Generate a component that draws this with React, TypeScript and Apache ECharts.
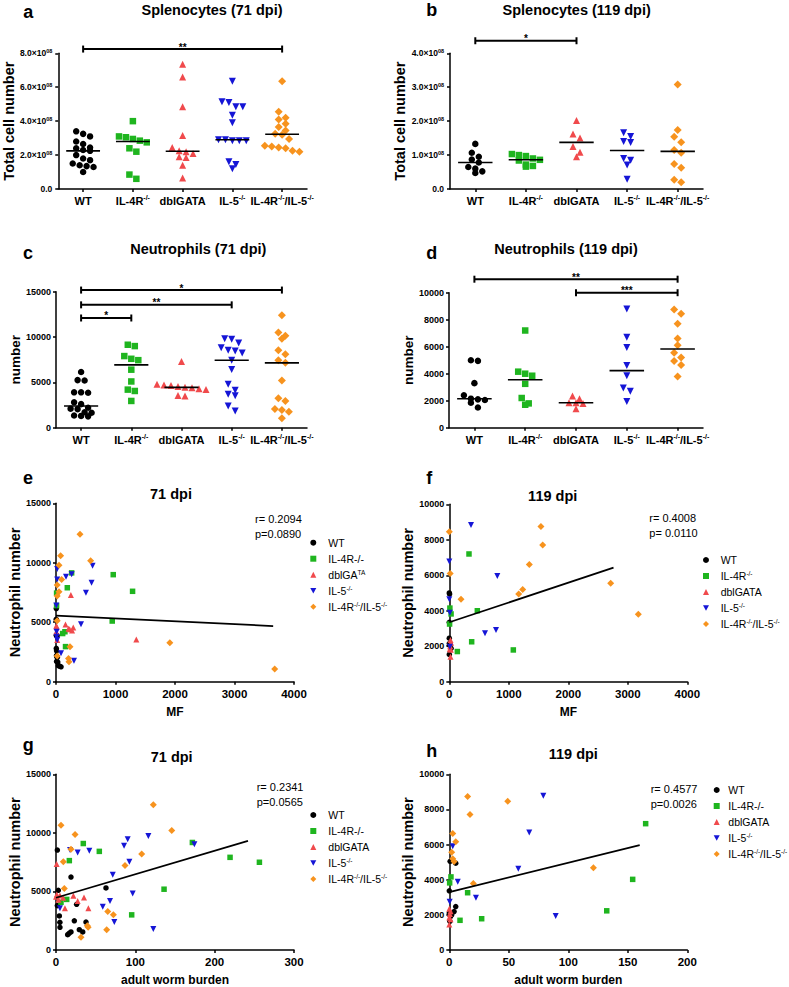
import React, { useEffect, useRef } from 'react';
import * as echarts from 'echarts';

const FONT = "'Liberation Sans', Arial, sans-serif";

// ---------- categories ----------
const groupLabels = ['WT', 'IL-4R{s|-/-}', 'dblGATA', 'IL-5{s|-/-}', 'IL-4R{s|-/-}/IL-5{s|-/-}'];

// ---------- Splenocytes 71 dpi (x10^8) ----------
const splen71WT = [3.4, 3.25, 3.1, 2.8, 2.65, 2.45, 2.4, 2.3, 2.25, 2.0, 1.8, 1.7, 1.5, 1.4, 1.35, 1.3, 1.0];
const splen71IL4R = [4.0, 3.1, 3.05, 2.95, 2.85, 2.75, 2.4, 2.2, 0.85, 0.6];
const splen71dbl = [7.35, 6.6, 4.85, 3.15, 2.45, 2.25, 2.2, 2.1, 1.9, 1.85, 1.4, 0.65];
const splen71IL5 = [6.35, 5.15, 5.1, 4.85, 4.85, 4.35, 3.9, 2.9, 2.9, 2.85, 2.85, 2.85, 1.6, 1.45, 1.2];
const splen71DKO = [6.35, 4.55, 4.2, 4.1, 3.85, 3.65, 3.45, 3.25, 3.2, 2.95, 2.55, 2.5, 2.45, 2.4, 2.25, 2.2];

// ---------- Splenocytes 119 dpi (x10^8) ----------
const splen119WT = [1.33, 1.07, 0.95, 0.87, 0.78, 0.65, 0.6, 0.52, 0.47];
const splen119IL4R = [1.03, 1.0, 0.97, 0.9, 0.86, 0.84, 0.72, 0.68, 0.66];
const splen119dbl = [2.02, 1.62, 1.5, 1.25, 1.08, 0.95];
const splen119IL5 = [1.66, 1.55, 1.4, 1.37, 0.9, 0.85, 0.71, 0.29];
const splen119DKO = [3.08, 1.74, 1.54, 1.38, 1.15, 1.07, 0.74, 0.63, 0.27, 0.2];

// ---------- Neutrophils 71 dpi ----------
const neut71WT = [6150, 5250, 5200, 3900, 3900, 3850, 2800, 2600, 2200, 2100, 2050, 1700, 1650, 1350, 1300, 1250];
const neut71IL4R = [9150, 9000, 7900, 7600, 7450, 6400, 5100, 4200, 4050, 2950];
const neut71dbl = [7300, 4800, 4700, 4650, 4550, 4450, 4400, 4300, 4200, 3550, 3500];
const neut71IL5 = [9820, 9750, 9340, 8830, 8530, 8460, 8240, 7440, 6410, 4800, 4140, 3700, 3520, 2380, 1830];
const neut71DKO = [12400, 10500, 10150, 9800, 8550, 8100, 7450, 7150, 5200, 3250, 2950, 2050, 1950, 1750, 1050];

// ---------- Neutrophils 119 dpi ----------
const neut119WT = [5000, 4950, 3300, 2400, 2150, 2100, 2050, 1850, 1500];
const neut119IL4R = [7200, 4150, 4000, 3850, 3250, 2200, 1800, 1700];
const neut119dbl = [2350, 2150, 1850, 1850, 1800, 1400];
const neut119IL5 = [8800, 6700, 5950, 4600, 3850, 2950, 2700, 1950];
const neut119DKO = [8750, 8450, 7700, 6600, 6100, 5550, 5200, 4950, 4650, 3800];

// ---------- significance bars ----------
const sigSplen71 = [{ from: 0, to: 4, y: 8.25, label: '**' }];
const sigSplen119 = [{ from: 0, to: 2, y: 4.37, label: '*' }];
const sigNeut71 = [
  { from: 0, to: 4, y: 15180, label: '*' },
  { from: 0, to: 3, y: 13550, label: '**' },
  { from: 0, to: 1, y: 12100, label: '*' },
];
const sigNeut119 = [
  { from: 0, to: 4, y: 11000, label: '**' },
  { from: 2, to: 4, y: 10000, label: '***' },
];

// ---------- e: MF vs neutrophils, 71 dpi ----------
const mf71WT = [[5, 6150], [3, 5250], [8, 5200], [5, 3900], [12, 3900], [18, 3850], [5, 2800], [10, 2600], [8, 2200], [15, 2100], [22, 2050], [10, 1700], [30, 1650], [40, 1350], [60, 1300], [85, 1250]];
const mf71IL4R = [[263, 9150], [962, 9000], [190, 7900], [1287, 7600], [10, 7450], [10, 6400], [945, 5100], [150, 4200], [112, 4050], [160, 2950]];
const mf71dbl = [[250, 7300], [160, 4800], [5, 4700], [10, 4650], [290, 4550], [210, 4450], [230, 4400], [270, 4300], [5, 4200], [1350, 3550], [20, 3500]];
const mf71IL5 = [[615, 9750], [20, 9470], [263, 9030], [168, 8830], [20, 8600], [598, 8320], [503, 7480], [5, 6410], [420, 4820], [10, 4200], [10, 3780], [20, 3500], [84, 2390], [302, 1770]];
const mf71DKO = [[403, 12400], [78, 10590], [50, 9800], [582, 10170], [95, 8600], [20, 8130], [50, 7560], [20, 7200], [20, 5130], [1913, 3280], [235, 2940], [20, 2160], [218, 1680], [210, 1950], [3675, 1070]];
const mf71Fit = [[0, 5550], [3650, 4680]];

// ---------- f: MF vs neutrophils, 119 dpi ----------
const mf119WT = [[0, 5000], [5, 4950], [0, 3350], [0, 2450], [0, 2150], [10, 2100], [30, 1880], [5, 2050], [0, 1540]];
const mf119IL4R = [[331, 7200], [10, 4150], [471, 4000], [30, 3820], [5, 3250], [376, 2250], [135, 1700], [1076, 1790]];
const mf119dbl = [[20, 2350], [30, 2200], [15, 2000], [10, 1850], [25, 1800], [20, 1400]];
const mf119IL5 = [[365, 8830], [0, 6770], [807, 5960], [0, 4650], [10, 3880], [600, 2730], [785, 2910], [10, 1970]];
const mf119DKO = [[1540, 8750], [0, 8450], [1570, 7700], [1345, 6600], [15, 6100], [2712, 5550], [1233, 5200], [1166, 4950], [197, 4650], [3177, 3800]];
const mf119Fit = [[0, 3350], [2760, 6430]];

// ---------- g: worm burden vs neutrophils, 71 dpi ----------
const wb71WT = [[1.7, 8530], [18.9, 6230], [2.9, 5100], [63, 5300], [26, 3900], [1.7, 3790], [4.2, 2910], [4.9, 2360], [23.1, 2490], [37.8, 2380], [5, 1940], [29.4, 1730], [18.9, 1540], [33.7, 1540], [14.7, 1310], [16.5, 1420]];
const wb71IL4R = [[34.4, 9090], [54.6, 8420], [171.9, 9180], [16.8, 7630], [219.4, 7910], [256.4, 7490], [136.2, 5190], [6.3, 4070], [13.5, 4320], [95.4, 3000]];
const wb71dbl = [[0.8, 7350], [1, 4740], [11.3, 3560], [21.9, 4630], [27.3, 4180], [35.3, 4490], [40.8, 3560], [9, 4460], [3, 4300], [0, 4550], [5, 4650]];
const wb71IL5 = [[116.4, 9730], [90.4, 9450], [174.4, 9030], [85.8, 8890], [17.7, 8530], [27.3, 8330], [42, 8470], [92.5, 7540], [71.5, 6420], [68.1, 4180], [96.7, 4820], [58.9, 3700], [5, 3560], [73.5, 2380], [122.7, 1790]];
const wb71DKO = [[122.7, 12400], [6.3, 10660], [24, 9870], [145.9, 10210], [18.9, 8610], [9.2, 7540], [108, 8190], [87, 7210], [10.5, 5240], [65.2, 3280], [72.3, 3000], [39.5, 2070], [40.5, 1950], [63.9, 1730], [31.5, 1090]];
const wb71Fit = [[0, 4460], [242, 9310]];

// ---------- h: worm burden vs neutrophils, 119 dpi ----------
const wb119WT = [[0.7, 5050], [5.4, 4940], [0, 3370], [5.4, 2470], [4, 2190], [0, 2100], [1, 1900], [0.5, 1630], [2, 2000]];
const wb119IL4R = [[165, 7190], [154.1, 4020], [1.4, 4160], [0.3, 3820], [15.4, 3260], [132.3, 2230], [27.2, 1780], [9, 1690]];
const wb119dbl = [[0, 2350], [1, 2200], [0.5, 2050], [0, 1850], [1, 1750], [0, 1450]];
const wb119IL5 = [[79, 8780], [67.2, 6690], [2.9, 5900], [58, 4620], [7.1, 3880], [22.4, 2980], [0.3, 2750], [89.4, 1940]];
const wb119DKO = [[15.4, 8740], [49.1, 8460], [17.4, 7710], [2.9, 6630], [5.4, 6160], [2, 5560], [2.9, 5190], [4, 5030], [121.1, 4680], [20.2, 3780]];
const wb119Fit = [[0, 3300], [160, 5970]];

// ---------- legend texts & stats ----------
const legendE = ['WT', 'IL-4R-/-', 'dblGA{s|TA}', 'IL-5{s|-/-}', 'IL-4R{s|-/-}/IL-5{s|-/-}'];
const legendF = ['WT', 'IL-4R{s|-/-}', 'dblGATA', 'IL-5{s|-/-}', 'IL-4R{s|-/-}/IL-5{s|-/-}'];
const legendG = ['WT', 'IL-4R-/-', 'dblGATA', 'IL-5{s|-/-}', 'IL-4R{s|-/-}/IL-5{s|-/-}'];
const legendH = ['WT', 'IL-4R-/-', 'dblGATA', 'IL-5{s|-/-}', 'IL-4R{s|-/-}/IL-5{s|-/-}'];
const statsE = ['r= 0.2094', 'p=0.0890'];
const statsF = ['r= 0.4008', 'p= 0.0110'];
const statsG = ['r= 0.2341', 'p=0.0565'];
const statsH = ['r= 0.4577', 'p=0.0026'];

// ---------- styles ----------
const COLORS = ['#000000', '#1fb51f', '#f04a4c', '#1515d6', '#f7931e'];
const SYMBOLS = ['circle', 'rect', 'triangle', 'path://M0,0L10,0L5,9Z', 'diamond'];
const CAT_SIZES = [6.5, 6.5, 7, 7, 8];
const SCAT_SIZES = [5.5, 5.5, 6, 6, 7];

const median = (arr: number[]) => {
  const s = arr.slice().sort((a, b) => a - b);
  const n = s.length;
  return n % 2 ? s[(n - 1) / 2] : (s[n / 2 - 1] + s[n / 2]) / 2;
};

// GraphPad-like row arrangement of points in a column
function swarm(values: number[], center: number, thr: number, step: number) {
  const sorted = values.slice().sort((a, b) => b - a);
  const rows: number[][] = [];
  for (const v of sorted) {
    const row = rows[rows.length - 1];
    if (row && row[0] - v < thr) row.push(v);
    else rows.push([v]);
  }
  const out: number[][] = [];
  rows.forEach((row) => row.forEach((v, i) => out.push([center + (i - (row.length - 1) / 2) * step, v])));
  return out;
}

const plain = (v: number) => String(v);
const axisLineStyle = { show: true, onZero: false, lineStyle: { color: '#000', width: 1.5 } };
const axisTickStyle = { show: true, length: 3, lineStyle: { color: '#000', width: 1.5 } };
const supRich = (size: number, lh: number, bold: boolean) => ({
  s: { fontSize: size, fontFamily: FONT, fontWeight: bold ? 'bold' : 'normal', color: '#000', verticalAlign: 'top', lineHeight: lh },
});

function buildOption() {
  const catPanels = [
    { groups: [splen71WT, splen71IL4R, splen71dbl, splen71IL5, splen71DKO], sig: sigSplen71, max: 8, interval: 2, sci: true, name: 'Total cell number', nameSize: 14.5, nameGap: 36, grid: { left: 56, top: 53.3, width: 251, height: 135.7 } },
    { groups: [splen119WT, splen119IL4R, splen119dbl, splen119IL5, splen119DKO], sig: sigSplen119, max: 4, interval: 1, sci: true, name: 'Total cell number', nameSize: 14.5, nameGap: 37, grid: { left: 450, top: 53.3, width: 253, height: 135.7 } },
    { groups: [neut71WT, neut71IL4R, neut71dbl, neut71IL5, neut71DKO], sig: sigNeut71, max: 15000, interval: 5000, sci: false, name: 'number', nameSize: 13.5, nameGap: 33, grid: { left: 56, top: 291.7, width: 251, height: 136 } },
    { groups: [neut119WT, neut119IL4R, neut119dbl, neut119IL5, neut119DKO], sig: sigNeut119, max: 10000, interval: 2000, sci: false, name: 'number', nameSize: 13.5, nameGap: 33, grid: { left: 449, top: 292.7, width: 254, height: 135 } },
  ];
  const scatPanels = [
    { groups: [mf71WT, mf71IL4R, mf71dbl, mf71IL5, mf71DKO], fit: mf71Fit, xmax: 4000, xint: 1000, ymax: 15000, yint: 5000, xname: 'MF', legend: legendE, legendPos: { left: 310.3, top: 536.7, pad: 7 }, grid: { left: 56, top: 503.3, width: 238, height: 178.4 } },
    { groups: [mf119WT, mf119IL4R, mf119dbl, mf119IL5, mf119DKO], fit: mf119Fit, xmax: 4000, xint: 1000, ymax: 10000, yint: 2000, xname: 'MF', legend: legendF, legendPos: { left: 703, top: 554, pad: 6.7 }, grid: { left: 449.3, top: 504.3, width: 238, height: 177.4 } },
    { groups: [wb71WT, wb71IL4R, wb71dbl, wb71IL5, wb71DKO], fit: wb71Fit, xmax: 300, xint: 100, ymax: 15000, yint: 5000, xname: 'adult worm burden', legend: legendG, legendPos: { left: 310.3, top: 809, pad: 7 }, grid: { left: 56, top: 774.3, width: 238, height: 178 } },
    { groups: [wb119WT, wb119IL4R, wb119dbl, wb119IL5, wb119DKO], fit: wb119Fit, xmax: 200, xint: 50, ymax: 10000, yint: 2000, xname: 'adult worm burden', legend: legendH, legendPos: { left: 713.7, top: 784, pad: 3.6 }, grid: { left: 449.3, top: 774.3, width: 238, height: 178 } },
  ];

  const grid: any[] = [];
  const xAxis: any[] = [];
  const yAxis: any[] = [];
  const series: any[] = [];
  const legend: any[] = [];

  catPanels.forEach((p, i) => {
    grid.push(p.grid);
    xAxis.push({
      type: 'category', gridIndex: i, data: groupLabels, position: 'bottom',
      axisLine: axisLineStyle, axisTick: { ...axisTickStyle, alignWithLabel: true },
      axisLabel: { interval: 0, fontSize: 11, fontWeight: 'bold', fontFamily: FONT, color: '#000', margin: 5, lineHeight: 14, rich: supRich(7, 7, true) },
    });
    xAxis.push({ type: 'value', gridIndex: i, min: -0.5, max: 4.5, show: false });
    yAxis.push({
      type: 'value', gridIndex: i, min: 0, max: p.max, interval: p.interval,
      axisLine: axisLineStyle, axisTick: axisTickStyle, splitLine: { show: false },
      axisLabel: p.sci
        ? { fontSize: 8.5, fontWeight: 'bold', fontFamily: FONT, color: '#000', margin: 6, lineHeight: 11, rich: supRich(5.5, 5, true), formatter: (v: number) => (v === 0 ? '0.0' : `${v.toFixed(1)}×10{s|08}`) }
        : { fontSize: 9, fontWeight: 'bold', fontFamily: FONT, color: '#000', margin: 5, formatter: plain },
      name: p.name, nameLocation: 'middle', nameGap: p.nameGap, nameRotate: 90,
      nameTextStyle: { fontSize: p.nameSize, fontWeight: 'bold', fontFamily: FONT, color: '#000' },
    });
    const thr = 6 * (p.max / p.grid.height);
    const step = 7 / (p.grid.width / 5);
    p.groups.forEach((vals, g) => {
      series.push({
        type: 'scatter', name: `c${i}-${g}`, xAxisIndex: 2 * i + 1, yAxisIndex: i,
        data: swarm(vals, g, thr, step), symbol: SYMBOLS[g], symbolSize: CAT_SIZES[g],
        itemStyle: { color: COLORS[g], opacity: 1 }, z: 3, silent: true,
      });
    });
    series.push({
      type: 'custom', xAxisIndex: 2 * i + 1, yAxisIndex: i, z: 5, silent: true, clip: false,
      data: p.groups.map((vals, g) => [g, median(vals)]),
      renderItem: (params: any, api: any) => {
        const pt = api.coord([api.value(0), api.value(1)]);
        const half = api.size([1, 0])[0] * 0.34;
        return { type: 'line', shape: { x1: pt[0] - half, y1: pt[1], x2: pt[0] + half, y2: pt[1] }, style: { stroke: '#000', lineWidth: 1.6 } };
      },
    });
    const sig = p.sig;
    series.push({
      type: 'custom', xAxisIndex: 2 * i + 1, yAxisIndex: i, z: 5, silent: true, clip: false,
      data: sig.map((s) => [s.from, s.y, s.to]),
      renderItem: (params: any, api: any) => {
        const s = sig[params.dataIndex];
        const p1 = api.coord([s.from, s.y]);
        const p2 = api.coord([s.to, s.y]);
        const st = { stroke: '#000', lineWidth: 2 };
        return {
          type: 'group',
          children: [
            { type: 'line', shape: { x1: p1[0], y1: p1[1], x2: p2[0], y2: p2[1] }, style: st },
            { type: 'line', shape: { x1: p1[0], y1: p1[1] - 3.5, x2: p1[0], y2: p1[1] + 3.5 }, style: st },
            { type: 'line', shape: { x1: p2[0], y1: p2[1] - 3.5, x2: p2[0], y2: p2[1] + 3.5 }, style: st },
            { type: 'text', x: (p1[0] + p2[0]) / 2, y: p1[1] - 2, style: { text: s.label, align: 'center', verticalAlign: 'middle', fontSize: 10, fontWeight: 'bold', fontFamily: FONT, fill: '#000' } },
          ],
        };
      },
    });
  });

  scatPanels.forEach((p, j) => {
    const gi = 4 + j;
    grid.push(p.grid);
    xAxis.push({
      type: 'value', gridIndex: gi, min: 0, max: p.xmax, interval: p.xint,
      axisLine: { show: true, lineStyle: { color: '#000', width: 1.5 } }, axisTick: axisTickStyle, splitLine: { show: false },
      axisLabel: { fontSize: 11.5, fontWeight: 'bold', fontFamily: FONT, color: '#000', margin: 6, formatter: plain },
      name: p.xname, nameLocation: 'middle', nameGap: 24,
      nameTextStyle: { fontSize: 12, fontWeight: 'bold', fontFamily: FONT, color: '#000' },
    });
    yAxis.push({
      type: 'value', gridIndex: gi, min: 0, max: p.ymax, interval: p.yint,
      axisLine: { show: true, lineStyle: { color: '#000', width: 1.5 } }, axisTick: axisTickStyle, splitLine: { show: false },
      axisLabel: { fontSize: 9, fontWeight: 'bold', fontFamily: FONT, color: '#000', margin: 5, formatter: plain },
      name: 'Neutrophil number', nameLocation: 'middle', nameGap: 31, nameRotate: 90,
      nameTextStyle: { fontSize: 14.5, fontWeight: 'bold', fontFamily: FONT, color: '#000' },
    });
    const names: string[] = [];
    const display: Record<string, string> = {};
    p.groups.forEach((pts, g) => {
      const nm = `s${j}-${g}`;
      names.push(nm);
      display[nm] = p.legend[g];
      series.push({
        type: 'scatter', name: nm, xAxisIndex: 8 + j, yAxisIndex: gi, data: pts,
        symbol: SYMBOLS[g], symbolSize: SCAT_SIZES[g], itemStyle: { color: COLORS[g], opacity: 1 }, z: 3, silent: true,
      });
    });
    series.push({
      type: 'line', xAxisIndex: 8 + j, yAxisIndex: gi, data: p.fit, showSymbol: false, silent: true,
      lineStyle: { color: '#000', width: 1.8 }, z: 4,
    });
    legend.push({
      orient: 'vertical', left: p.legendPos.left, top: p.legendPos.top, padding: 0,
      itemWidth: 6, itemHeight: 6, itemGap: 4, selectedMode: false, data: names,
      formatter: (name: string) => display[name],
      textStyle: { fontSize: 10.5, fontFamily: FONT, color: '#000', lineHeight: 12, padding: [0, 0, 0, p.legendPos.pad], rich: supRich(6.5, 6, false) },
    });
  });

  const titles = [
    { t: 'Splenocytes (71 dpi)', x: 212, y: 10 },
    { t: 'Splenocytes (119 dpi)', x: 576.7, y: 10 },
    { t: 'Neutrophils (71 dpi)', x: 198.3, y: 249.3 },
    { t: 'Neutrophils (119 dpi)', x: 566, y: 249.3 },
    { t: '71 dpi', x: 171, y: 494 },
    { t: '119 dpi', x: 552.7, y: 495.7 },
    { t: '71 dpi', x: 171.7, y: 757.3 },
    { t: '119 dpi', x: 573.3, y: 754 },
  ];
  const letters = [
    { t: 'a', x: 28.3, y: 11.7 }, { t: 'b', x: 431.7, y: 10 },
    { t: 'c', x: 28, y: 253 }, { t: 'd', x: 431.7, y: 253.3 },
    { t: 'e', x: 28, y: 478 }, { t: 'f', x: 429.3, y: 478.3 },
    { t: 'g', x: 28.3, y: 745 }, { t: 'h', x: 431.7, y: 751 },
  ];
  const stats = [
    { s: statsE, x: 255, y: 519 },
    { s: statsF, x: 649.3, y: 518.3 },
    { s: statsG, x: 256.7, y: 786.7 },
    { s: statsH, x: 650.7, y: 789 },
  ];
  const graphic: any[] = [];
  titles.forEach((t) => graphic.push({ type: 'text', x: t.x, y: t.y, silent: true, style: { text: t.t, align: 'center', verticalAlign: 'middle', textAlign: 'center', textVerticalAlign: 'middle', font: `bold 14.5px ${FONT}`, fill: '#000' } }));
  letters.forEach((t) => graphic.push({ type: 'text', x: t.x, y: t.y, silent: true, style: { text: t.t, align: 'center', verticalAlign: 'middle', textAlign: 'center', textVerticalAlign: 'middle', font: `bold 18px ${FONT}`, fill: '#000' } }));
  stats.forEach((t) => t.s.forEach((line, k) => graphic.push({ type: 'text', x: t.x, y: t.y + k * 15, silent: true, style: { text: line, align: 'left', verticalAlign: 'middle', textAlign: 'left', textVerticalAlign: 'middle', font: `11px ${FONT}`, fill: '#000' } })));

  return {
    animation: false,
    backgroundColor: '#ffffff',
    textStyle: { fontFamily: FONT },
    grid, xAxis, yAxis, series, legend, graphic,
  };
}

export default function App() {
  const ref = useRef<HTMLDivElement>(null);
  useEffect(() => {
    const chart = echarts.init(ref.current as HTMLDivElement, undefined, { renderer: 'svg' });
    chart.setOption(buildOption() as any);
    return () => chart.dispose();
  }, []);
  return <div ref={ref} style={{ position: 'absolute', left: 0, top: 0, width: 789, height: 987, background: '#fff' }} />;
}
